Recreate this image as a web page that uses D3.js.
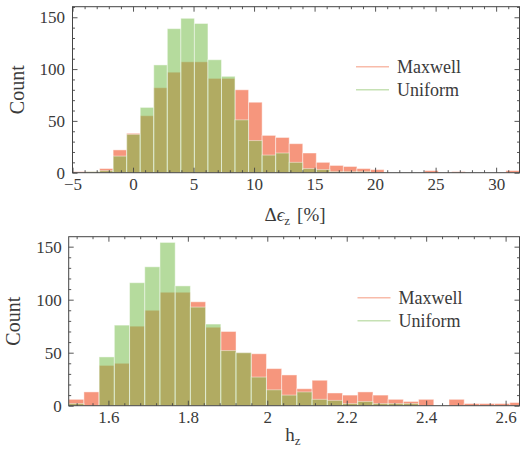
<!DOCTYPE html>
<html><head><meta charset="utf-8">
<script src="https://cdn.jsdelivr.net/npm/d3@7"></script>
<style>body{margin:0;background:#fff}svg{display:block}</style>
</head><body>
<script>
// ---------- data ----------
const seriesNames = ["Maxwell", "Uniform"];

const topBinStart = -5, topBinWidth = 1.119;
const topMaxwell = [1,1,4,22,38,55,82,97,107,107,91,91,80,68,36,34,28,19,10,7,6,4,3,0,0,0,2,0,1,0,0,0,2];
const topUniform = [0,1,2,16,37,63,104,139,149,144,109,93,51,31,17,19,10,4,3,1,1,1,0,0,0,0,0,0,0,0,0,0,0];
const topXTicks = [-5,0,5,10,15,20,25,30];

const bottomBinStart = 1.5, bottomBinWidth = 0.0383;
const bottomMaxwell = [6,13,38,40,75,90,107,107,98,74,70,50,49,35,29,16,24,12,10,13,10,6,4,6,0,6,2,2,2,3];
const bottomUniform = [2,0,46,76,116,131,154,113,93,77,52,50,27,15,10,13,6,5,2,4,2,2,2,0,0,0,0,0,0,0];
const bottomXTicks = [1.6,1.8,2,2.2,2.4,2.6];

const yTicks = [0,50,100,150];

// ---------- style ----------
const W = 520, H = 460;
const FONT = "'Liberation Serif', 'DejaVu Serif', serif";
const INK = "#3a3a3a";
const SPINE = "#444";
const RED = "#F6967D";
const GREEN = "#78BE4D";
const GREEN_OP = 0.55;
const LEG_RED = "#F8BBAA";
const LEG_GREEN = "#C6E1B4";

const svg = d3.select("body").append("svg").attr("width", W).attr("height", H)
  .style("font-family", FONT);

function panel(cfg) {
  const g = svg.append("g");
  const x = d3.scaleLinear().domain(cfg.xDomain).range([cfg.x0, cfg.x1]);
  const y = d3.scaleLinear().domain(cfg.yDomain).range([cfg.y1, cfg.y0]);
  const clipId = "clip" + cfg.id;
  svg.append("clipPath").attr("id", clipId).append("rect")
    .attr("x", cfg.x0).attr("y", cfg.y0).attr("width", cfg.x1 - cfg.x0).attr("height", cfg.y1 - cfg.y0);

  const bars = g.append("g").attr("clip-path", `url(#${clipId})`);
  const mk = (vals, fill, op) => bars.append("g").selectAll("rect")
    .data(vals.map((v, i) => ({v, i}))).join("rect")
    .attr("x", d => x(cfg.binStart + d.i * cfg.binWidth))
    .attr("width", d => x(cfg.binStart + (d.i + 1) * cfg.binWidth) - x(cfg.binStart + d.i * cfg.binWidth))
    .attr("y", d => y(d.v))
    .attr("height", d => y(0) - y(d.v))
    .attr("fill", fill).attr("fill-opacity", op)
    .attr("stroke", "#fff").attr("stroke-opacity", 0.45).attr("stroke-width", 1)
    .style("display", d => d.v > 0 ? null : "none");
  mk(cfg.red, RED, 1);
  mk(cfg.green, GREEN, GREEN_OP);

  const fmt = d => String(+d.toFixed(3)).replace("-", "\u2212");
  const style = (sel) => {
    sel.select(".domain").remove();
    sel.selectAll("line").attr("stroke", SPINE).attr("stroke-width", 0.9);
    sel.selectAll("text").attr("fill", INK).style("font-family", FONT).style("font-size", "17px");
  };
  // major axes
  g.append("g").attr("transform", `translate(0,${cfg.y1})`)
    .call(d3.axisBottom(x).tickValues(cfg.xTicks).tickFormat(fmt).tickSizeInner(-5).tickSizeOuter(0).tickPadding(5.5)).call(style);
  g.append("g").attr("transform", `translate(${cfg.x0},0)`)
    .call(d3.axisLeft(y).tickValues(yTicks).tickFormat(fmt).tickSizeInner(-5).tickSizeOuter(0).tickPadding(cfg.yPad)).call(style);
  g.append("g").attr("transform", `translate(0,${cfg.y0})`)
    .call(d3.axisTop(x).tickValues(cfg.xTicks).tickFormat("").tickSizeInner(-5).tickSizeOuter(0)).call(style);
  g.append("g").attr("transform", `translate(${cfg.x1},0)`)
    .call(d3.axisRight(y).tickValues(yTicks).tickFormat("").tickSizeInner(-5).tickSizeOuter(0)).call(style);
  // minor ticks
  const xm = cfg.xMinor.filter(v => !cfg.xTicks.some(t => Math.abs(t - v) < 1e-6) && v >= cfg.xDomain[0] && v <= cfg.xDomain[1]);
  const ym = d3.range(10, cfg.yDomain[1], 10).filter(v => v % 50 !== 0);
  g.append("g").attr("transform", `translate(0,${cfg.y1})`)
    .call(d3.axisBottom(x).tickValues(xm).tickFormat("").tickSizeInner(-2.5).tickSizeOuter(0)).call(style);
  g.append("g").attr("transform", `translate(0,${cfg.y0})`)
    .call(d3.axisTop(x).tickValues(xm).tickFormat("").tickSizeInner(-2.5).tickSizeOuter(0)).call(style);
  g.append("g").attr("transform", `translate(${cfg.x0},0)`)
    .call(d3.axisLeft(y).tickValues(ym).tickFormat("").tickSizeInner(-2.5).tickSizeOuter(0)).call(style);
  g.append("g").attr("transform", `translate(${cfg.x1},0)`)
    .call(d3.axisRight(y).tickValues(ym).tickFormat("").tickSizeInner(-2.5).tickSizeOuter(0)).call(style);

  // frame
  g.append("rect").attr("x", cfg.x0).attr("y", cfg.y0).attr("width", cfg.x1 - cfg.x0).attr("height", cfg.y1 - cfg.y0)
    .attr("fill", "none").attr("stroke", SPINE).attr("stroke-width", 1);

  // y label
  g.append("text").attr("transform", `translate(${cfg.ylabX},${(cfg.y0 + cfg.y1) / 2}) rotate(-90)`)
    .attr("text-anchor", "middle").attr("fill", INK).style("font-size", "20px").text("Count");

  // legend
  const lg = g.append("g");
  seriesNames.forEach((name, k) => {
    const yy = cfg.legY + k * 23;
    lg.append("line").attr("x1", cfg.legX).attr("x2", cfg.legX + 33).attr("y1", yy).attr("y2", yy)
      .attr("stroke", k === 0 ? LEG_RED : LEG_GREEN).attr("stroke-width", 1.6);
    lg.append("text").attr("x", cfg.legX + 41).attr("y", yy + 5.8).attr("fill", INK)
      .style("font-size", "18px").text(name);
  });
  return {g, x, y};
}

const p1 = panel({
  id: 1, x0: 72.5, x1: 519.5, y0: 6.7, y1: 172.7,
  xDomain: [-5, 31.93], yDomain: [0, 160.2],
  binStart: topBinStart, binWidth: topBinWidth, red: topMaxwell, green: topUniform,
  xTicks: topXTicks, xMinor: d3.range(-5, 32, 1), yPad: 7.5, ylabX: 24,
  legX: 356, legY: 66.7
});
const t1 = p1.g.append("text").attr("x", 295).attr("y", 221).attr("text-anchor", "middle")
  .attr("fill", INK).style("font-size", "19px").attr("xml:space", "preserve");
t1.append("tspan").text("\u0394");
t1.append("tspan").style("font-style", "italic").text("\u03F5");
t1.append("tspan").attr("dy", 4).style("font-size", "13px").text("z");
t1.append("tspan").attr("dy", -4).attr("dx", 7).text("[%]");

const p2 = panel({
  id: 2, x0: 68.7, x1: 519.5, y0: 236.7, y1: 405.7,
  xDomain: [1.5, 2.635], yDomain: [0, 159.4],
  binStart: bottomBinStart, binWidth: bottomBinWidth, red: bottomMaxwell, green: bottomUniform,
  xTicks: bottomXTicks, xMinor: d3.range(0, 30).map(i => +(1.52 + i * 0.04).toFixed(2)), yPad: 7, ylabX: 20,
  legX: 357.5, legY: 297.7
});
const t2 = p2.g.append("text").attr("x", 293).attr("y", 441).attr("text-anchor", "middle")
  .attr("fill", INK).style("font-size", "19px");
t2.append("tspan").text("h");
t2.append("tspan").attr("dy", 4).style("font-size", "13px").text("z");
</script>
</body></html>
